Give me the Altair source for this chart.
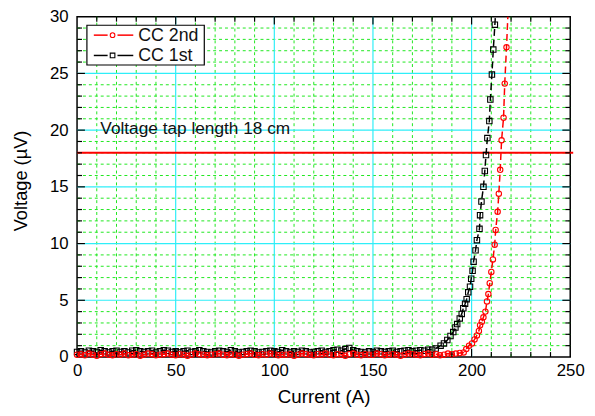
import altair as alt
import pandas as pd

# ---------------- data ----------------
cc1_current = list(range(0, 180, 2)) + [
    180, 181.8, 184.3, 186, 187.7, 189.3, 190.7, 191.8, 192.7, 194, 195, 195.8,
    196.7, 197.5, 198.3, 199.2, 199.8, 200.5, 201, 202, 202.7, 204, 204.3, 205,
    206, 206.7, 207.3, 208, 209, 209.5, 210.3, 211, 211.8, 212.6]
cc1_voltage = [
    0.45, 0.5, 0.4, 0.55, 0.5, 0.45, 0.6, 0.5, 0.4, 0.5,
    0.55, 0.45, 0.5, 0.4, 0.55, 0.6, 0.5, 0.45, 0.5, 0.55,
    0.4, 0.5, 0.6, 0.55, 0.45, 0.5, 0.4, 0.5, 0.55, 0.45,
    0.5, 0.6, 0.5, 0.45, 0.4, 0.5, 0.55, 0.5, 0.45, 0.6,
    0.5, 0.4, 0.45, 0.5, 0.55, 0.5, 0.4, 0.45, 0.5, 0.55,
    0.5, 0.45, 0.6, 0.5, 0.4, 0.5, 0.45, 0.55, 0.5, 0.4,
    0.45, 0.5, 0.55, 0.45, 0.5, 0.6, 0.65, 0.55, 0.7, 0.8,
    0.6, 0.5, 0.45, 0.4, 0.5, 0.45, 0.55, 0.5, 0.45, 0.5,
    0.55, 0.45, 0.5, 0.55, 0.6, 0.5, 0.55, 0.6, 0.55, 0.65,
    0.65, 0.75, 1.0, 1.2, 1.5, 1.85, 2.2, 2.6, 2.9, 3.4, 3.8, 4.3,
    4.7, 5.1, 5.7, 6.2, 6.9, 7.6, 8.4, 9.4, 10.3, 11.3, 12.5, 13.7,
    15.0, 16.4, 17.8, 19.3, 20.8, 22.7, 24.9, 27.1, 29.3, 31.5]

cc2_current = list(range(0, 196, 2)) + [
    196, 197.3, 198.7, 200.2, 201.5, 202.7, 203.7, 204.3, 205.2, 206, 207, 207.8,
    208.5, 209.2, 210, 210.8, 211.7, 212.2, 213.2, 213.8, 214.5, 215.2, 216.2,
    216.8, 217.7, 218.5]
cc2_voltage = [
    0.2, 0.25, 0.15, 0.3, 0.2, 0.1, 0.25, 0.3, 0.2, 0.15,
    0.25, 0.2, 0.3, 0.15, 0.2, 0.25, 0.1, 0.2, 0.3, 0.25,
    0.15, 0.2, 0.25, 0.3, 0.2, 0.15, 0.25, 0.2, 0.1, 0.2,
    0.3, 0.25, 0.2, 0.15, 0.2, 0.25, 0.3, 0.2, 0.15, 0.25,
    0.2, 0.1, 0.2, 0.25, 0.3, 0.2, 0.15, 0.25, 0.2, 0.3,
    0.25, 0.15, 0.2, 0.2, 0.25, 0.1, 0.2, 0.3, 0.25, 0.2,
    0.15, 0.25, 0.2, 0.3, 0.2, 0.15, 0.25, 0.2, 0.1, 0.25,
    0.3, 0.2, 0.15, 0.25, 0.2, 0.2, 0.3, 0.25, 0.15, 0.2,
    0.25, 0.2, 0.1, 0.2, 0.3, 0.25, 0.2, 0.15, 0.25, 0.3,
    0.2, 0.25, 0.15, 0.2, 0.3, 0.25, 0.3, 0.35,
    0.4, 0.7, 1.0, 1.2, 1.55, 1.9, 2.3, 2.8, 3.1, 3.5, 4.0, 4.9,
    5.55, 6.5, 7.5, 8.6, 9.9, 11.2, 12.8, 14.4, 16.5, 19.1, 21.1,
    24.1, 27.3, 30.5]

x_labels = [0, 50, 100, 150, 200, 250]
y_labels = [0, 5, 10, 15, 20, 25, 30]
x_minor = [v for v in range(10, 250, 10) if v % 50 != 0]
y_minor = [v for v in range(1, 30) if v % 5 != 0]
x_major = [50, 100, 150, 200]
y_major = [5, 10, 15, 20, 25]
threshold = [18]
annotation = ["Voltage tap length 18 cm"]
annotation_pos = [11.8, 19.7]
series_names = ["CC 2nd", "CC 1st"]
x_title = "Current (A)"
y_title = "Voltage (\u00b5V)"

# ---------------- layout / style ----------------
W, H = 500, 345
FONT = "Liberation Sans"
CYAN = "#2EEEF8"
GREEN = "#1EE81E"
RED = "#FF0000"

xs = alt.Scale(domain=[0, 250], nice=False, zero=False)
ys = alt.Scale(domain=[0, 30], nice=False, zero=False)

x_axis = alt.Axis(values=x_labels, grid=False, domain=False, ticks=False,
                  labelFontSize=17, labelPadding=6, labelFlush=False,
                  titleFontSize=19, titlePadding=9)
y_axis = alt.Axis(values=y_labels, grid=False, domain=False, ticks=False,
                  labelFontSize=17, labelPadding=9, labelFlush=False,
                  titleFontSize=18.5, titlePadding=19, titleY=166)

def X(field):
    return alt.X(field, type="quantitative", scale=xs, title=x_title, axis=x_axis)

def Y(field):
    return alt.Y(field, type="quantitative", scale=ys, title=y_title, axis=y_axis)

df1 = pd.DataFrame({"current": cc1_current, "voltage": cc1_voltage,
                    "order": list(range(len(cc1_current)))})
df2 = pd.DataFrame({"current": cc2_current, "voltage": cc2_voltage,
                    "order": list(range(len(cc2_current)))})

def vgrid(vals, color, dash, width):
    return alt.Chart(pd.DataFrame({"current": vals})).mark_rule(
        color=color, strokeDash=dash, strokeWidth=width).encode(
        x=X("current"), y=alt.value(0), y2=alt.value(H))

def hgrid(vals, color, dash, width):
    return alt.Chart(pd.DataFrame({"voltage": vals})).mark_rule(
        color=color, strokeDash=dash, strokeWidth=width).encode(
        y=Y("voltage"), x=alt.value(0), x2=alt.value(W))

grid = [vgrid(x_minor, GREEN, [3, 3], 1), hgrid(y_minor, GREEN, [3, 3], 1),
        vgrid(x_major, CYAN, [1, 0], 1.2), hgrid(y_major, CYAN, [1, 0], 1.2)]

thr = alt.Chart(pd.DataFrame({"voltage": threshold})).mark_rule(
    color=RED, strokeWidth=2).encode(
    y=Y("voltage"), x=alt.value(0), x2=alt.value(W + 3))

note = alt.Chart(pd.DataFrame({"t": annotation, "current": [annotation_pos[0]],
                               "voltage": [annotation_pos[1]]})).mark_text(
    align="left", baseline="alphabetic", font=FONT, fontSize=17.5, color="#111111").encode(
    x=X("current"), y=Y("voltage"), text="t:N")

def series(df, color, shape):
    line = alt.Chart(df).mark_line(color=color, strokeWidth=1.5, strokeDash=[7, 4],
                                   clip=True).encode(x=X("current"), y=Y("voltage"),
                                                     order="order:Q")
    pts = alt.Chart(df).transform_filter("datum.voltage <= 30").mark_point(
        shape=shape, color=color, filled=False, size=30, strokeWidth=1.1, opacity=1).encode(
        x=X("current"), y=Y("voltage"))
    return [line, pts]

data_layers = series(df1, "#000000", "square") + series(df2, RED, "circle")

def xticks(vals, length, bottom):
    y1, y2 = (H, H - length) if bottom else (0, length)
    return alt.Chart(pd.DataFrame({"current": vals})).mark_rule(
        color="black", strokeWidth=1.2).encode(
        x=X("current"), y=alt.value(y1), y2=alt.value(y2))

def yticks(vals, length, left):
    x1, x2 = (0, length) if left else (W, W - length)
    return alt.Chart(pd.DataFrame({"voltage": vals})).mark_rule(
        color="black", strokeWidth=1.2).encode(
        y=Y("voltage"), x=alt.value(x1), x2=alt.value(x2))

ticks = [xticks(x_minor, 5, True), xticks(x_major, 8, True),
         xticks(x_minor, 5, False), xticks(x_major, 8, False),
         yticks(y_minor, 5, True), yticks(y_major, 8, True),
         yticks(y_minor, 5, False), yticks(y_major, 8, False)]

# ---------------- legend (drawn) ----------------
one = pd.DataFrame({"label": [series_names[0]]})
two = pd.DataFrame({"label": [series_names[1]]})
legend_box = alt.Chart(one).mark_rect(fill="white", stroke="black", strokeWidth=1.2).encode(
    x=alt.value(10), x2=alt.value(129), y=alt.value(8.7), y2=alt.value(49))

def legend_row(df, color, shape, yy):
    seg1 = alt.Chart(df).mark_rule(color=color, strokeWidth=1.5).encode(
        x=alt.value(17), x2=alt.value(31), y=alt.value(yy))
    seg2 = alt.Chart(df).mark_rule(color=color, strokeWidth=1.5).encode(
        x=alt.value(41), x2=alt.value(57), y=alt.value(yy))
    sym = alt.Chart(df).mark_point(shape=shape, color=color, filled=False, size=22,
                                   strokeWidth=1.1, opacity=1).encode(
        x=alt.value(36), y=alt.value(yy))
    txt = alt.Chart(df).mark_text(align="left", baseline="middle", font=FONT, fontSize=18,
                                  color="#111111").encode(
        x=alt.value(62), y=alt.value(yy + 0.5), text="label:N")
    return [seg1, seg2, sym, txt]

legend = [legend_box] + legend_row(one, RED, "circle", 18.7) + legend_row(two, "#000000", "square", 39.3)

layers = grid + [thr, note] + data_layers + ticks + legend

chart = alt.layer(*layers).properties(
    width=W, height=H,
    autosize=alt.AutoSizeParams(type="none"),
    padding={"left": 70, "top": 6, "right": 17, "bottom": 57},
).configure_view(stroke="black", strokeWidth=1.5).configure_axis(
    labelFont=FONT, titleFont=FONT, labelColor="#000000", titleColor="#000000",
    titleFontWeight="normal")

chart.save("out.html", embed_options={"renderer": "svg", "actions": False})
